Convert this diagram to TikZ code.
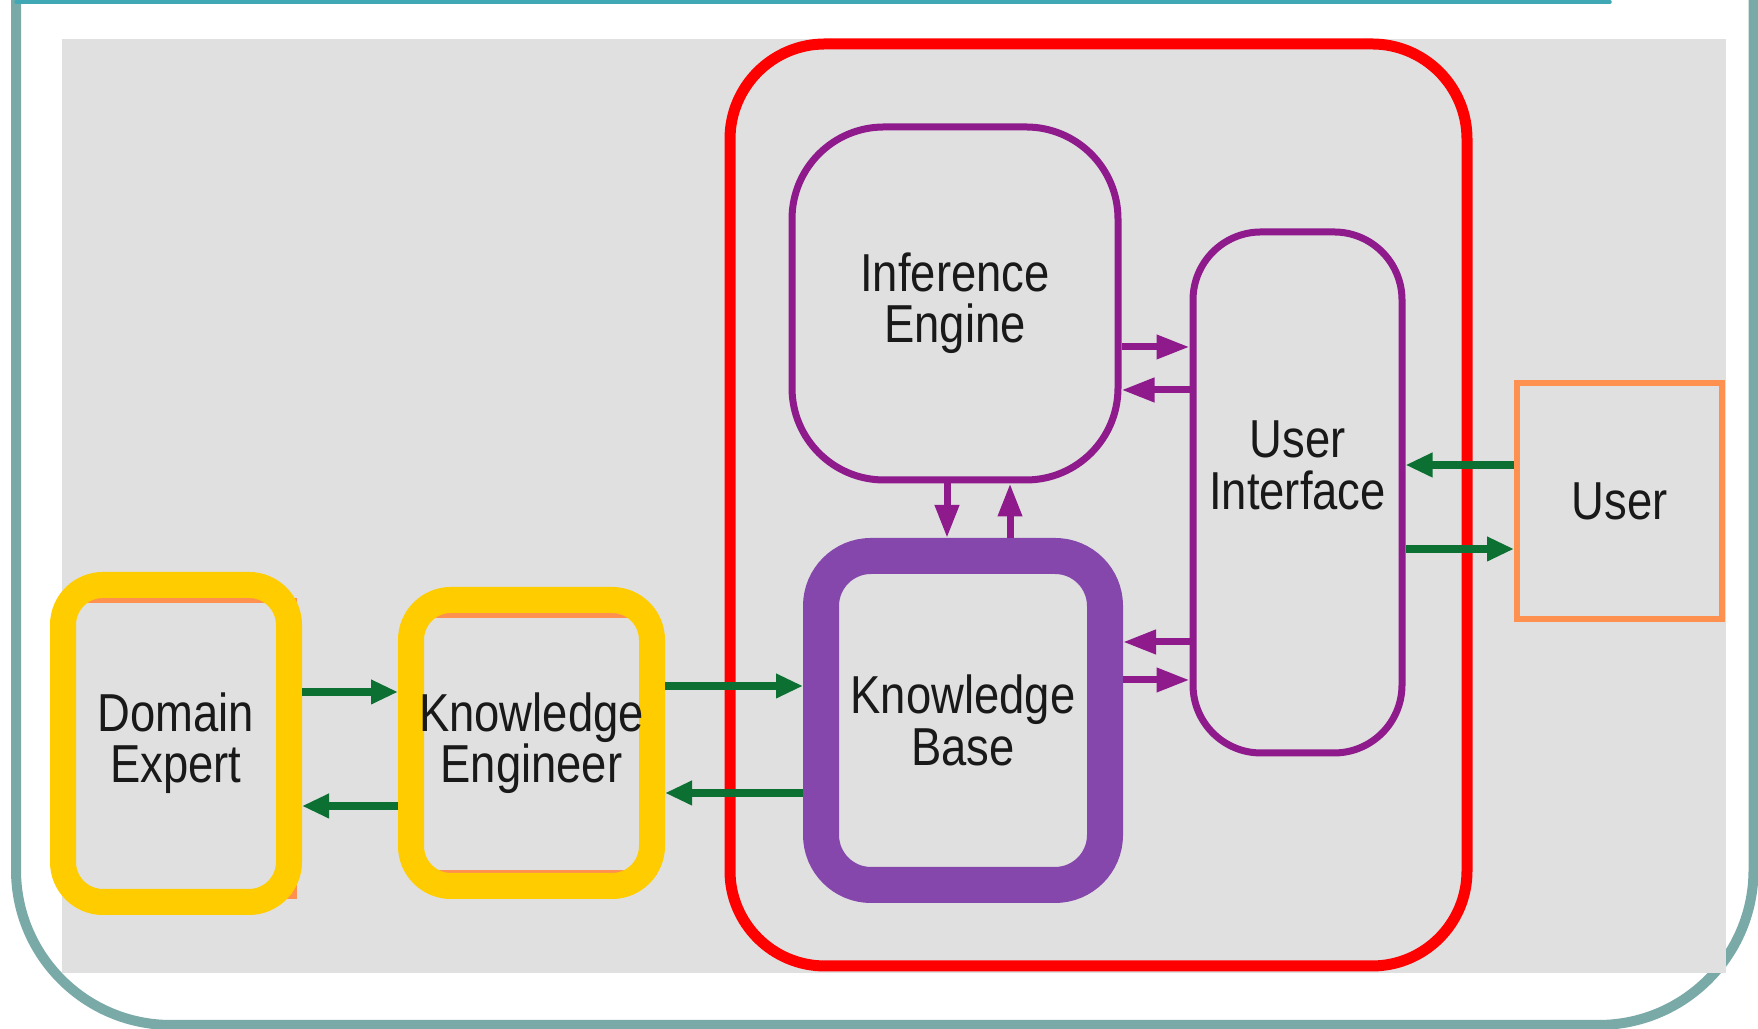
\documentclass[tikz,border=0pt]{standalone}
\usepackage{fontspec}
\newfontfamily\diagfont{Liberation Sans}[FakeStretch=0.85]
\usetikzlibrary{arrows.meta}

\definecolor{framegreen}{RGB}{122,170,168}
\definecolor{frametop}{RGB}{64,168,181}
\definecolor{panelgray}{RGB}{224,224,224}
\definecolor{sysred}{RGB}{255,0,0}
\definecolor{engpurple}{RGB}{142,26,140}
\definecolor{kbpurple}{RGB}{134,71,173}
\definecolor{persyellow}{RGB}{255,204,0}
\definecolor{userorange}{RGB}{255,145,80}
\definecolor{arrowgreen}{RGB}{12,112,50}
\definecolor{textblack}{RGB}{25,25,25}

\tikzset{
	sysbox/.style={draw=sysred, line width=0.11cm, rounded corners=0.95cm},
	enginebox/.style={draw=engpurple, line width=0.07cm},
	kbbox/.style={draw=kbpurple, line width=0.36cm, rounded corners=0.5cm},
	personbox/.style={draw=persyellow, line width=0.26cm, rounded corners=0.4cm},
	userbox/.style={draw=userorange, line width=0.06cm},
	garrow/.style={draw=arrowgreen, line width=0.08cm, -{Triangle[length=0.27cm,width=0.23cm]}},
	parrow/.style={draw=engpurple, line width=0.07cm, -{Triangle[length=0.33cm,width=0.23cm]}}
}

\begin{document}
\begin{tikzpicture}[every node/.style={font=\diagfont\fontsize{15.2}{14.6}\selectfont, text=textblack, align=center, inner sep=0pt}]
	\useasboundingbox (0,0) rectangle (17.58,10.29);
	\fill[white] (0,0) rectangle (17.58,10.29);
	% slide frame
	\draw[framegreen, line width=0.1cm] (0.16,10.4) -- (0.16,1.59) arc[start angle=180, end angle=270, radius=1.55] -- (15.985,0.04) arc[start angle=270, end angle=360, radius=1.55] -- (17.535,10.4);
	\draw[frametop, line width=0.035cm, line cap=round] (0.16,10.27) -- (16.1,10.27);
	\fill[panelgray] (0.62,0.56) rectangle (17.26,9.90);

	\node[sysbox, minimum width=7.37cm, minimum height=9.22cm] (sys) at (10.985,5.24) {};

	\node[enginebox, rounded corners=0.92cm, minimum width=3.26cm, minimum height=3.53cm] (ie) at (9.55,7.255) {Inference\\Engine};
	\node[enginebox, rounded corners=0.68cm, minimum width=2.09cm, minimum height=5.21cm, label={[name=uilabel, yshift=0.27cm]center:User\\Interface}] (ui) at (12.975,5.365) {};
	\node[kbbox, minimum width=2.84cm, minimum height=3.29cm] (kb) at (9.63,3.085) {Knowledge\\Base};

	% old orange outlines under the yellow
	\draw[userorange, line width=0.05cm] (0.68,1.32) rectangle (2.94,4.28);
	\draw[userorange, line width=0.05cm] (4.17,1.56) rectangle (6.54,4.13);
	\node[personbox, minimum width=2.26cm, minimum height=3.17cm] (de) at (1.76,2.855) {Domain\\Expert};
	\node[personbox, minimum width=2.41cm, minimum height=2.86cm] (ke) at (5.315,2.86) {Knowledge\\Engineer};
	\node[userbox, minimum width=2.05cm, minimum height=2.36cm] (usr) at (16.195,5.275) {User};

	\draw[garrow] (de.east |- 0,3.37) -- (ke.west |- 0,3.37);
	\draw[garrow] (ke.west |- 0,2.23) -- (de.east |- 0,2.23);
	\draw[garrow] (ke.east |- 0,3.43) -- (kb.west |- 0,3.43);
	\draw[garrow] (kb.west |- 0,2.36) -- (ke.east |- 0,2.36);
	\draw[garrow] (usr.west |- 0,5.64) -- (ui.east |- 0,5.64);
	\draw[garrow] (ui.east |- 0,4.80) -- (usr.west |- 0,4.80);

	\draw[parrow] (ie.east |- 0,6.82) -- (ui.west |- 0,6.82);
	\draw[parrow] (ui.west |- 0,6.39) -- (ie.east |- 0,6.39);
	\draw[parrow] (ui.west |- 0,3.87) -- (kb.east |- 0,3.87);
	\draw[parrow] (kb.east |- 0,3.49) -- (ui.west |- 0,3.49);
	\draw[parrow] (ie.south -| 9.47,0) -- (kb.north -| 9.47,0);
	\draw[parrow] (kb.north -| 10.10,0) -- (ie.south -| 10.10,0);
\end{tikzpicture}
\end{document}
